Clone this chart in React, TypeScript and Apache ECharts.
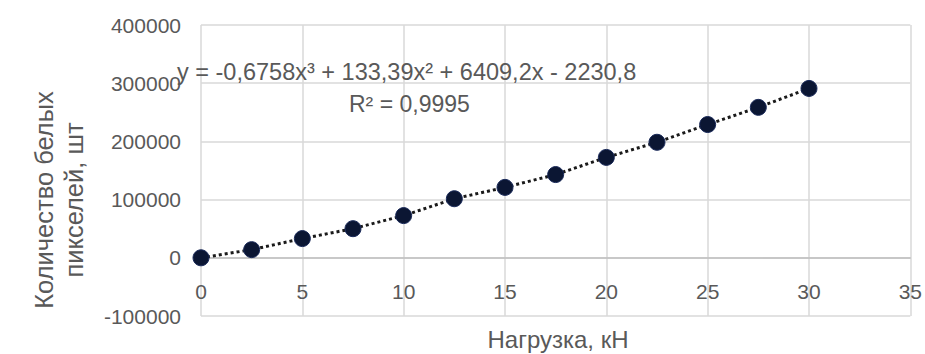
import React, { useEffect, useRef } from "react";
import * as echarts from "echarts";

const loadKN = [0, 2.5, 5, 7.5, 10, 12.5, 15, 17.5, 20, 22.5, 25, 27.5, 30];
const whitePixels = [0, 14000, 33000, 50000, 72500, 101500, 121000, 143000, 172500, 198500, 229000, 258500, 291000];
const xTicks = { min: 0, max: 35, interval: 5 };
const yTicks = { min: -100000, max: 400000, interval: 100000 };
const equationText = "y = -0,6758x³ + 133,39x² + 6409,2x - 2230,8";
const r2Text = "R² = 0,9995";
const xTitle = "Нагрузка, кН";
const yTitle = "Количество белых\nпикселей, шт";

const FONT = "'Liberation Sans', Arial, sans-serif";
const GRAY = "#595959";

const GRID_TOP = 25;
const GRID_BOTTOM = 38;
const CHART_H = 354;

export default function App() {
  const ref = useRef<HTMLDivElement>(null);
  useEffect(() => {
    if (!ref.current) return;
    const chart = echarts.init(ref.current, null, { renderer: "svg" });
    const plotH = CHART_H - GRID_TOP - GRID_BOTTOM;
    const zeroOffset = -plotH * (0 - yTicks.min) / (yTicks.max - yTicks.min);
    chart.setOption({
      animation: false,
      backgroundColor: "#ffffff",
      grid: { left: 201, right: 14, top: GRID_TOP, bottom: GRID_BOTTOM, containLabel: false },
      xAxis: {
        type: "value",
        min: xTicks.min,
        max: xTicks.max,
        interval: xTicks.interval,
        offset: zeroOffset,
        axisLine: { show: true, onZero: false, lineStyle: { color: "#bfbfbf", width: 1.5 } },
        axisTick: { show: false },
        axisLabel: { color: GRAY, fontFamily: FONT, fontSize: 21, margin: 23 },
        splitLine: { show: true, lineStyle: { color: "#d9d9d9", width: 1.5 } },
      },
      yAxis: {
        type: "value",
        min: yTicks.min,
        max: yTicks.max,
        interval: yTicks.interval,
        axisLine: { show: false },
        axisTick: { show: false },
        axisLabel: {
          color: GRAY,
          fontFamily: FONT,
          fontSize: 21,
          margin: 20,
          formatter: (v: number) => String(v),
        },
        splitLine: { show: true, lineStyle: { color: "#d9d9d9", width: 1.5 } },
      },
      series: [
        {
          type: "line",
          data: loadKN.map((x, i) => [x, whitePixels[i]]),
          symbol: "circle",
          symbolSize: 16,
          itemStyle: { color: "#0b1633", borderColor: "#1a2a5a", borderWidth: 1 },
          lineStyle: { color: "#1a1a1a", width: 3, type: [3, 3] },
          z: 3,
        },
      ],
      graphic: [
        {
          type: "text",
          x: 177,
          y: 72,
          z: 10,
          style: { text: equationText, fill: GRAY, font: `23.5px ${FONT}`, textVerticalAlign: "middle" },
        },
        {
          type: "text",
          x: 349,
          y: 104,
          z: 10,
          style: { text: r2Text, fill: GRAY, font: `23px ${FONT}`, textVerticalAlign: "middle" },
        },
        {
          type: "text",
          x: 558,
          y: 339,
          style: {
            text: xTitle,
            fill: GRAY,
            font: `24px ${FONT}`,
            textAlign: "center",
            textVerticalAlign: "middle",
          },
        },
        {
          type: "text",
          x: 59,
          y: 200,
          rotation: Math.PI / 2,
          style: {
            text: yTitle,
            fill: GRAY,
            font: `25.5px ${FONT}`,
            textAlign: "center",
            textVerticalAlign: "middle",
            lineHeight: 30,
          },
        },
      ],
    });
    return () => chart.dispose();
  }, []);
  return (
    <div
      ref={ref}
      style={{ position: "fixed", left: 0, top: 0, width: 925, height: 354, background: "#fff" }}
    />
  );
}
